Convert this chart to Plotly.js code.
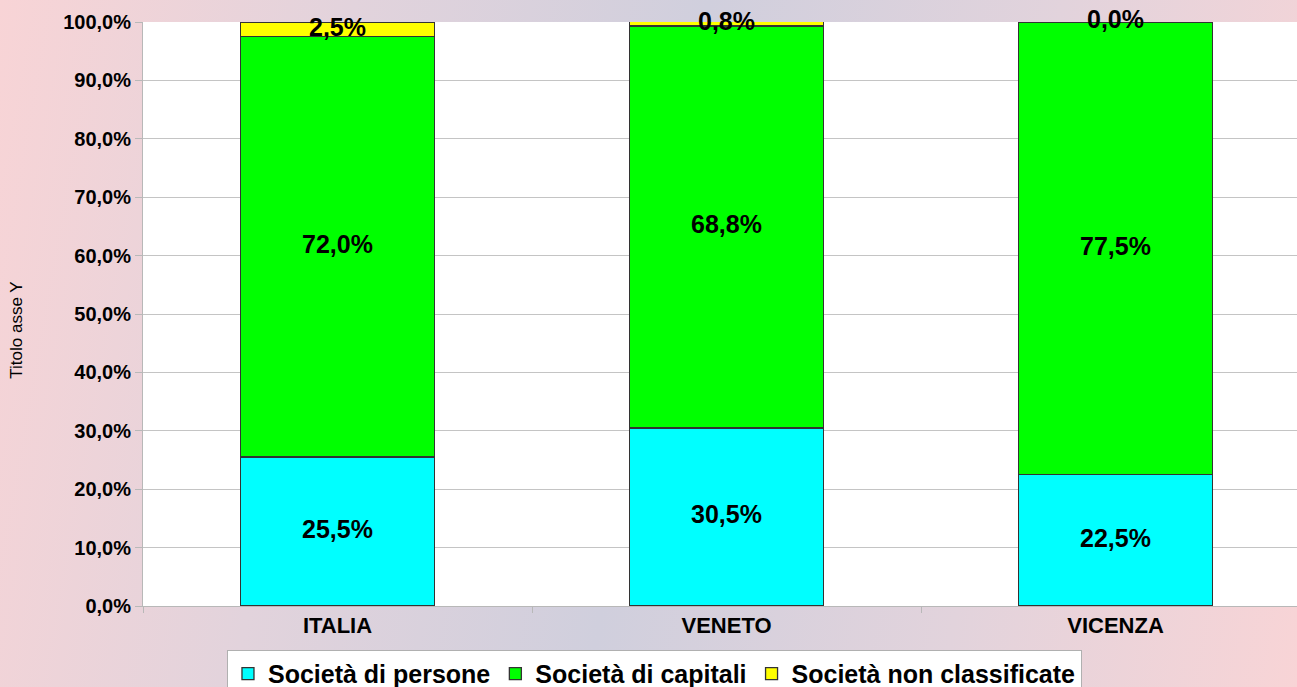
<!DOCTYPE html>
<html>
<head>
<meta charset="utf-8">
<script src="https://cdn.plot.ly/plotly-3.0.1.min.js"></script>
<style>
html,body{margin:0;padding:0;width:1297px;height:687px;overflow:hidden;
background:linear-gradient(100deg,#f8d4d6 0%,#e2d3dc 25%,#d0cfdd 50%,#e2d3dc 75%,#f8d4d6 100%);}
#chart{width:1310px;height:687px;}
</style>
</head>
<body>
<div id="chart"></div>
<script>
const categories = ["ITALIA", "VENETO", "VICENZA"];
const persone = [25.5, 30.5, 22.5];
const capitali = [72.0, 68.8, 77.5];
const nonClass = [2.5, 0.8, 0.0];
const seriesNames = ["Società di persone", "Società di capitali", "Società non classificate"];
const seriesColors = ["#00ffff", "#00ff00", "#ffff00"];
const seriesValues = [persone, capitali, nonClass];
const yTitle = "Titolo asse Y";

const fmt = v => v.toFixed(1).replace('.', ',') + '%';
const FONT = 'Liberation Sans, Arial, sans-serif';

const traces = seriesValues.map((vals, i) => ({
  type: 'bar', x: categories, y: vals, name: seriesNames[i],
  marker: {color: seriesColors[i], line: {color: '#333333', width: 1.3}},
  hoverinfo: 'none'
}));

// label positions: middle of each stacked segment
const labelX = [], labelY = [], labelT = [];
categories.forEach((c, k) => {
  let base = 0;
  seriesValues.forEach(vals => {
    labelX.push(c);
    labelY.push(base + vals[k] / 2);
    labelT.push(fmt(vals[k]));
    base += vals[k];
  });
});
traces.push({
  type: 'scatter', mode: 'text', x: labelX, y: labelY, text: labelT,
  textposition: 'middle center', showlegend: false, hoverinfo: 'none', cliponaxis: false,
  textfont: {family: FONT, size: 25, color: '#000000', weight: 'bold'}
});

const layout = {
  width: 1310, height: 687,
  barmode: 'stack', bargap: 0.5,
  paper_bgcolor: 'rgba(0,0,0,0)', plot_bgcolor: '#ffffff',
  margin: {l: 143, r: 0, t: 22, b: 81},
  separators: ',.',
  showlegend: true,
  font: {family: FONT, color: '#000000'},
  xaxis: {
    type: 'category', showgrid: false, showline: true, linecolor: '#b8b8b8', linewidth: 1,
    ticks: 'outside', tickson: 'boundaries', ticklen: 6, tickcolor: '#b8b8b8',
    tickfont: {size: 22, weight: 'bold', family: FONT},
    fixedrange: true
  },
  yaxis: {
    range: [0, 100], dtick: 10, tick0: 0, tickformat: '.1f', ticksuffix: '%',
    showgrid: true, gridcolor: '#c4c4c4', gridwidth: 1,
    showline: true, linecolor: '#b8b8b8', linewidth: 1,
    ticks: 'outside', ticklen: 7, tickcolor: '#b8b8b8',
    tickfont: {size: 20, weight: 'bold', family: FONT},
    zeroline: false,
    fixedrange: true
  },
  annotations: [{
    text: yTitle, xref: 'paper', yref: 'paper', x: -0.108, y: 0.473,
    xanchor: 'center', yanchor: 'middle', textangle: -90, showarrow: false,
    font: {size: 17, family: FONT, color: '#000000'}
  }],
  legend: {
    orientation: 'h', xref: 'container', yref: 'container',
    x: 0.4996, xanchor: 'center', y: 0.054, yanchor: 'top',
    bgcolor: '#ffffff', bordercolor: '#b0b0b0', borderwidth: 1,
    font: {size: 25, weight: 'bold', family: FONT},
    itemwidth: 30, tracegroupgap: 0, traceorder: 'normal'
  }
};

Plotly.newPlot('chart', traces, layout, {displayModeBar: false, staticPlot: true});
</script>
</body>
</html>
